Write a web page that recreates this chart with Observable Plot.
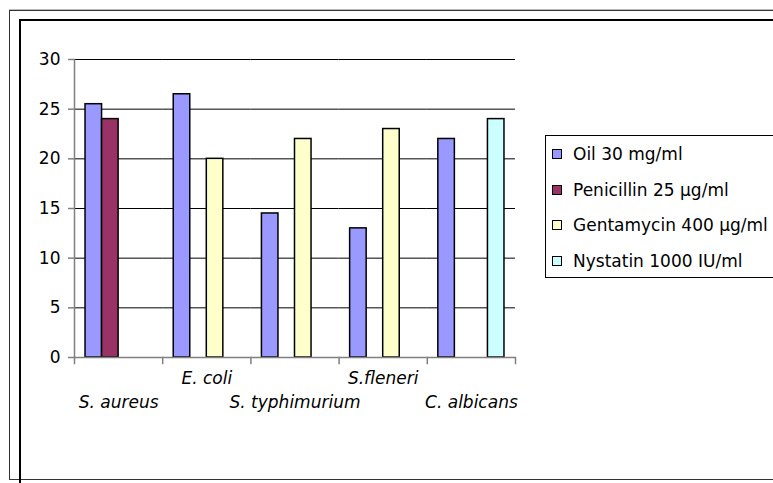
<!DOCTYPE html>
<html><head><meta charset="utf-8">
<script src="https://cdn.jsdelivr.net/npm/d3@7"></script>
<script src="https://cdn.jsdelivr.net/npm/@observablehq/plot@0.6"></script>
<style>
html,body{margin:0;padding:0;background:#fff;overflow:hidden;width:773px;height:483px;}
#wrap{position:relative;width:773px;height:483px;overflow:hidden;}
#chart{position:absolute;left:0;top:0;}
.frame{position:absolute;pointer-events:none;box-sizing:border-box;}
#outer{left:9px;top:10px;width:900px;height:470px;border:1px solid #333;box-shadow:0 -1px 0 #bbb;}
#inner{left:19px;top:19px;width:900px;height:600px;border:2px solid #000;}
#legend{position:absolute;left:545px;top:135px;width:300px;height:143px;box-sizing:border-box;border:1px solid #000;background:#fff;font-family:"DejaVu Sans",sans-serif;font-size:17px;color:#000;}
.item{position:absolute;left:6px;display:flex;align-items:center;white-space:nowrap;height:20px;}
.sw{width:8px;height:8px;border:1px solid #000;margin-right:11px;flex:none;}
</style>
</head>
<body>
<div id="wrap">
  <div id="chart"></div>
  <div id="outer" class="frame"></div>
  <div id="inner" class="frame"></div>
  <div id="legend"></div>
</div>
<script>
const categories = ["S. aureus", "E. coli", "S. typhimurium", "S.fleneri", "C. albicans"];
const series = ["Oil 30 mg/ml", "Penicillin 25 µg/ml", "Gentamycin 400 µg/ml", "Nystatin 1000 IU/ml"];
const oil        = [25.5, 26.5, 14.5, 13, 22];
const penicillin = [24, null, null, null, null];
const gentamycin = [null, 20, 22, 23, null];
const nystatin   = [null, null, null, null, 24];
const colors = ["#9999FF", "#993366", "#FFFFCC", "#CCFFFF"];
const yTicks = [0, 5, 10, 15, 20, 25, 30];

const valueSets = [oil, penicillin, gentamycin, nystatin];
const rows = [];
categories.forEach((c, i) => {
  valueSets.forEach((arr, s) => {
    if (arr[i] != null) rows.push({category: c, series: series[s], value: arr[i]});
  });
});

const chart = Plot.plot({
  width: 773, height: 483,
  marginLeft: 74, marginRight: 258, marginTop: 59, marginBottom: 126,
  style: {fontFamily: "DejaVu Sans, sans-serif", fontSize: "17px", color: "#000", background: "transparent"},
  fx: {domain: categories, padding: 0, round: false, axis: null},
  x: {domain: series, paddingInner: 0, paddingOuter: 0.667, round: false, axis: null},
  y: {domain: [0, 30], axis: null},
  color: {domain: series, range: colors},
  marks: [
    Plot.gridY(yTicks.filter(t => t > 0), {stroke: "#000", strokeOpacity: 1, strokeWidth: 1}),
    Plot.barY(rows, {fx: "category", x: "series", y: "value", fill: "series", stroke: "#000", strokeWidth: 1.5}),
    Plot.ruleY([0], {stroke: "#808080", strokeWidth: 1.5}),
    Plot.frame({anchor: "left", facetAnchor: "left", stroke: "#808080", strokeWidth: 1.5}),
    Plot.frame({anchor: "left", stroke: "#808080", strokeWidth: 1.5, insetTop: 298, insetBottom: -6}),
    Plot.frame({anchor: "right", facetAnchor: "right", stroke: "#808080", strokeWidth: 1.5, insetTop: 298, insetBottom: -6}),
    Plot.axisY(yTicks, {tickSize: 6, tickPadding: 8, stroke: "#808080", strokeWidth: 1.5, fill: "#000", label: null, fontSize: 17}),
    Plot.text(categories.filter((d, i) => i % 2 === 1), {fx: d => d, text: d => d, frameAnchor: "bottom", dy: 26, fontStyle: "italic", fontSize: 17, fill: "#000"}),
    Plot.text(categories.filter((d, i) => i % 2 === 0), {fx: d => d, text: d => d, frameAnchor: "bottom", dy: 50, fontStyle: "italic", fontSize: 17, fill: "#000"})
  ]
});
document.getElementById("chart").appendChild(chart);

const legend = d3.select("#legend");
series.forEach((s, i) => {
  const item = legend.append("div").attr("class", "item").style("top", (8 + i * 35.7) + "px");
  item.append("div").attr("class", "sw").style("background", colors[i]);
  item.append("span").text(s);
});
</script>
</body></html>
